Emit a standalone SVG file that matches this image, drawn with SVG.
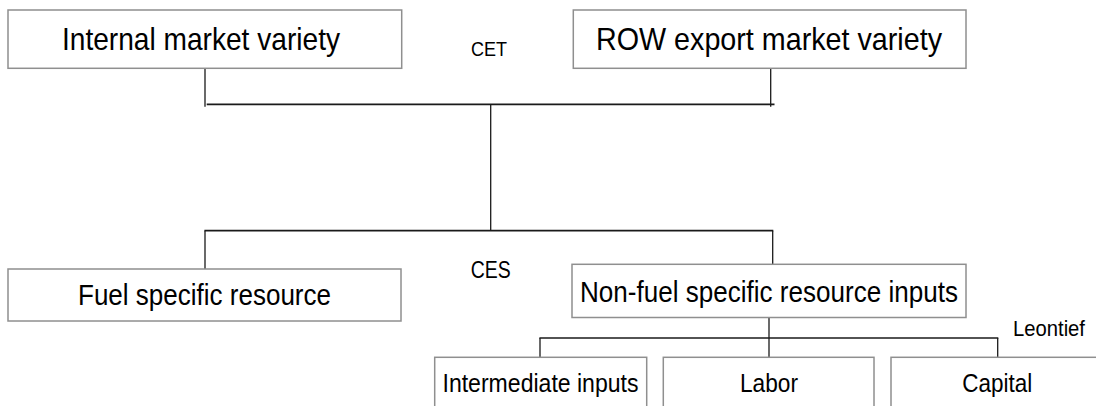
<svg xmlns="http://www.w3.org/2000/svg" width="1096" height="406" viewBox="0 0 1096 406">
<style>
.box{fill:#fff;stroke:#8f8f8f;stroke-width:1.5}
.t{font-family:"Liberation Sans",Arial,sans-serif;fill:#000;text-anchor:middle}
.big{font-size:31.5px}
.mid{font-size:29.5px}
.sm{font-size:25px}
.lab{font-size:21px}
.c line{stroke:#1a1a1a}
.v{stroke-width:1.3}
.h{stroke-width:1.7}
</style>
<rect width="1096" height="406" fill="#fff"/>
<g id="connectors" class="c">
<line class="v" x1="205" y1="68.3" x2="205" y2="106.7"/>
<line class="v" x1="770.7" y1="68.3" x2="770.7" y2="106.7"/>
<line class="h" x1="206.7" y1="104.3" x2="774.5" y2="104.3"/>
<line class="v" x1="490.7" y1="104.3" x2="490.7" y2="230.7"/>
<line class="h" x1="204.4" y1="230.7" x2="773.3" y2="230.7"/>
<line class="v" x1="205" y1="230.7" x2="205" y2="269"/>
<line class="v" x1="772.7" y1="230.7" x2="772.7" y2="264.3"/>
<line class="v" x1="769" y1="317.5" x2="769" y2="357.3"/>
<line class="h" x1="539.4" y1="338" x2="998.3" y2="338"/>
<line class="v" x1="540" y1="338" x2="540" y2="357.3"/>
<line class="v" x1="997.7" y1="338" x2="997.7" y2="357.3"/>
</g>
<g id="internal">
<rect class="box" x="8" y="10" width="393.7" height="58.3"/>
<text class="t big" x="201" y="50" textLength="278" lengthAdjust="spacingAndGlyphs">Internal market variety</text>
</g>
<g id="row">
<rect class="box" x="573.3" y="10" width="392.7" height="58.3"/>
<text class="t big" x="769" y="50" textLength="346" lengthAdjust="spacingAndGlyphs">ROW export market variety</text>
</g>
<g id="cet-label">
<text class="t lab" x="489" y="56" textLength="36" lengthAdjust="spacingAndGlyphs">CET</text>
</g>
<g id="fuel">
<rect class="box" x="8" y="269" width="393" height="52"/>
<text class="t mid" x="204.5" y="305" textLength="253" lengthAdjust="spacingAndGlyphs">Fuel specific resource</text>
</g>
<g id="ces-label">
<text class="t lab" x="490.7" y="278.3" textLength="40" lengthAdjust="spacingAndGlyphs" style="font-size:23px">CES</text>
</g>
<g id="nonfuel">
<rect class="box" x="572" y="264.3" width="394" height="53.2"/>
<text class="t mid" x="769" y="302" textLength="378" lengthAdjust="spacingAndGlyphs">Non-fuel specific resource inputs</text>
</g>
<g id="leontief-label">
<text class="t lab" x="1049" y="336" textLength="72" lengthAdjust="spacingAndGlyphs" style="font-size:21.5px">Leontief</text>
</g>
<g id="intermediate">
<rect class="box" x="434.7" y="357.3" width="212" height="70"/>
<text class="t sm" x="540.5" y="391.7" textLength="196" lengthAdjust="spacingAndGlyphs">Intermediate inputs</text>
</g>
<g id="labor">
<rect class="box" x="663.3" y="357.3" width="210.7" height="70"/>
<text class="t sm" x="769" y="391.7" textLength="58" lengthAdjust="spacingAndGlyphs">Labor</text>
</g>
<g id="capital">
<rect class="box" x="891" y="357.3" width="213" height="70"/>
<text class="t sm" x="997.3" y="391.7" textLength="70" lengthAdjust="spacingAndGlyphs">Capital</text>
</g>
</svg>
